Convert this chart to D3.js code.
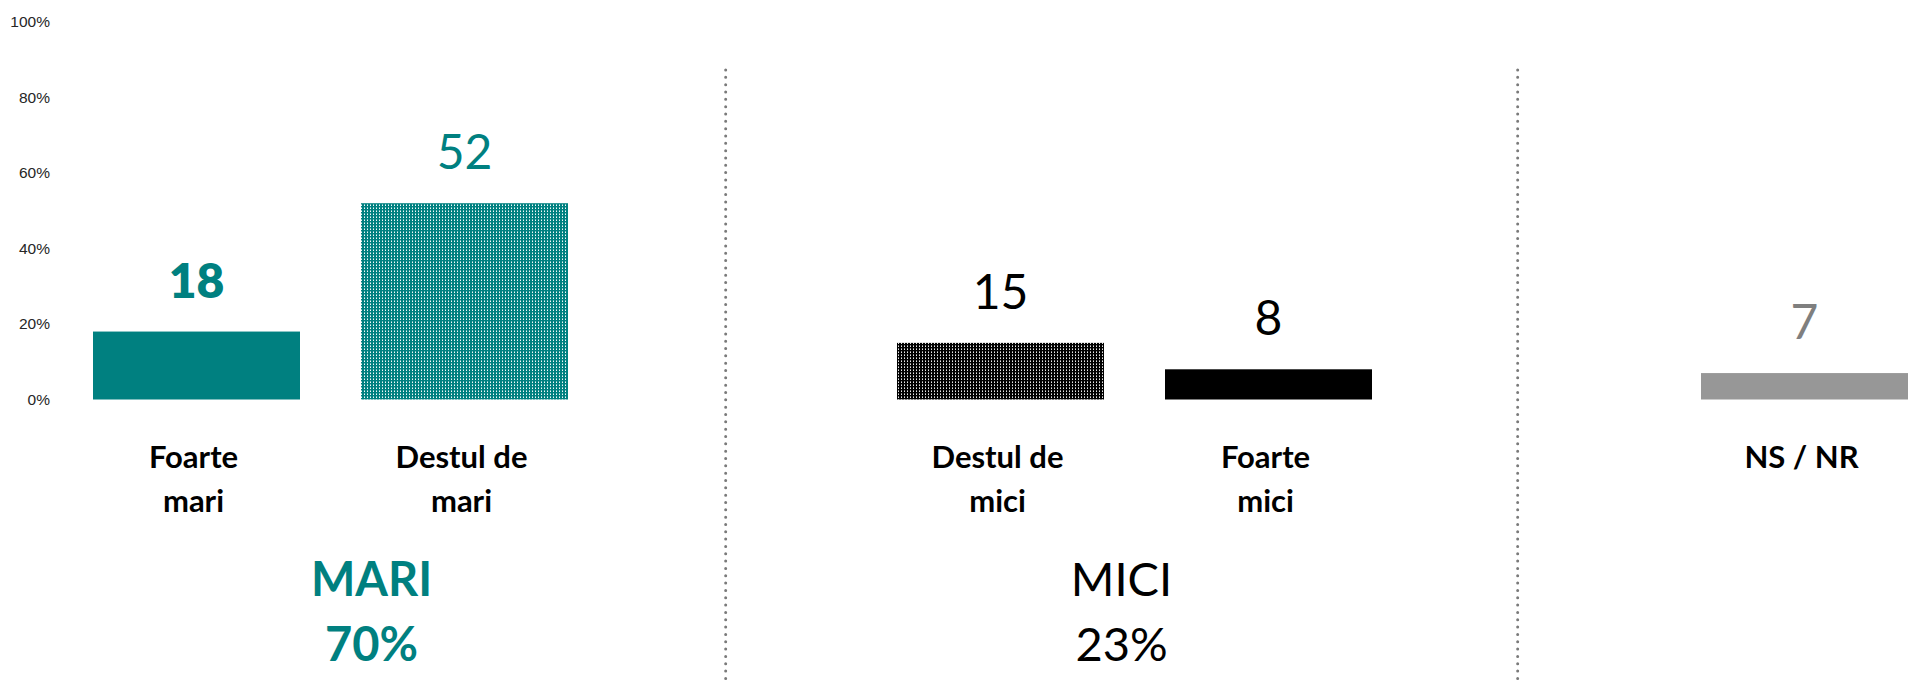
<!DOCTYPE html>
<html>
<head>
<meta charset="utf-8">
<script src="https://cdn.jsdelivr.net/npm/d3@7"></script>
<style>
  html, body { margin: 0; padding: 0; background: #fff; }
  svg { display: block; }
</style>
</head>
<body>
<svg id="chart" width="1908" height="680"></svg>
<script>
// ---- data ----
const slots = ["Foarte mari", "Destul de mari", "sep1", "Destul de mici", "Foarte mici", "sep2", "NS / NR"];
const barCategories = ["Foarte mari", "Destul de mari", "Destul de mici", "Foarte mici", "NS / NR"];
const barValues = [18, 52, 15, 8, 7];
const labelLines = [["Foarte", "mari"], ["Destul de", "mari"], ["Destul de", "mici"], ["Foarte", "mici"], ["NS / NR"]];
const yTicks = [0, 20, 40, 60, 80, 100];
const separators = ["sep1", "sep2"];
const groupNames = ["MARI", "MICI"];
const groupTotals = [70, 23];
const groupMembers = [["Foarte mari", "Destul de mari"], ["Destul de mici", "Foarte mici"]];

// ---- styles ----
const TEAL = "#008080";
const barFills = ["solid-teal", "dots-teal", "dots-black", "solid-black", "solid-gray"];
const valueColors = [TEAL, TEAL, "#000", "#000", "#7f7f7f"];
const valueWeights = [700, 400, 400, 400, 400];
const groupColors = [TEAL, "#000"];
const groupWeights = [700, 400];
const FONT = "Lato, 'Open Sans', sans-serif";

const svg = d3.select("#chart");
const defs = svg.append("defs");

function dotPattern(id, bg, dot, soft) {
  const p = defs.append("pattern").attr("id", id)
    .attr("patternUnits", "userSpaceOnUse").attr("width", 3).attr("height", 3);
  p.append("rect").attr("width", 3).attr("height", 3).attr("fill", bg);
  p.append("rect").attr("x", 1).attr("y", 1).attr("width", 1).attr("height", 1).attr("fill", dot);
  p.append("rect").attr("x", 1).attr("y", 0).attr("width", 1).attr("height", 1).attr("fill", soft);
}
dotPattern("dots-teal", TEAL, "#f2fafa", "#80c0c0");
dotPattern("dots-black", "#000", "#e6e6e6", "#8c8c8c");
const fillOf = {
  "solid-teal": TEAL,
  "dots-teal": "url(#dots-teal)",
  "dots-black": "url(#dots-black)",
  "solid-black": "#000",
  "solid-gray": "#979797"
};

// ---- scales ----
const x = d3.scaleBand().domain(slots).range([62.5, 1938.5])
  .paddingInner(0.2276).paddingOuter(0.1138);
const y = d3.scaleLinear().domain([0, 100]).range([399.5, 22]);
const bw = x.bandwidth();

// ---- y axis (labels only) ----
const yAxis = d3.axisLeft(y).tickValues(yTicks).tickSize(0).tickPadding(0)
  .tickFormat(d => d + "%");
const ya = svg.append("g").attr("transform", "translate(50,0)").call(yAxis);
ya.select(".domain").remove();
ya.selectAll("text").attr("font-family", "'Liberation Sans', Arial, sans-serif")
  .attr("font-size", 15.5).attr("fill", "#262626");

// ---- separators ----
const sepFrac = [0.467, 0.409];
svg.selectAll("line.sep").data(separators).join("line")
  .attr("class", "sep")
  .attr("x1", (d, i) => x(d) + bw * sepFrac[i])
  .attr("x2", (d, i) => x(d) + bw * sepFrac[i])
  .attr("y1", 70).attr("y2", 684)
  .attr("stroke", "#7a7a7a").attr("stroke-width", 3)
  .attr("stroke-linecap", "round").attr("stroke-dasharray", "0 7.33");

// ---- bars ----
const bars = barCategories.map((c, i) => ({ c, v: barValues[i], i }));
svg.selectAll("rect.bar").data(bars).join("rect")
  .attr("class", "bar")
  .attr("x", d => x(d.c))
  .attr("y", d => y(d.v))
  .attr("width", bw)
  .attr("height", d => y(0) - y(d.v))
  .attr("fill", d => fillOf[barFills[d.i]]);

// ---- value labels ----
svg.selectAll("text.val").data(bars).join("text")
  .attr("class", "val")
  .attr("x", d => x(d.c) + bw / 2)
  .attr("y", d => y(d.v) - 34)
  .attr("text-anchor", "middle")
  .attr("font-family", FONT).attr("font-size", 48)
  .attr("font-weight", d => valueWeights[d.i] === 700 ? 800 : 400)
  .attr("fill", d => valueColors[d.i])
  .text(d => d.v);

// ---- category labels ----
const cl = svg.selectAll("text.cat").data(bars).join("text")
  .attr("class", "cat")
  .attr("text-anchor", "middle")
  .attr("font-family", FONT).attr("font-size", 31).attr("font-weight", 700)
  .attr("fill", "#000");
cl.selectAll("tspan").data(d => labelLines[d.i].map(t => ({ t, c: d.c }))).join("tspan")
  .attr("x", d => x(d.c) + bw / 2 - 3)
  .attr("y", (d, j) => 468 + j * 44)
  .text(d => d.t);

// ---- group summaries ----
const groupShift = [41, -13];
const groups = groupNames.map((g, i) => ({ g, t: groupTotals[i], m: groupMembers[i], i }));
const gt = svg.selectAll("text.grp").data(groups).join("text")
  .attr("class", "grp")
  .attr("text-anchor", "middle")
  .attr("font-family", FONT).attr("font-size", 47)
  .attr("font-weight", d => groupWeights[d.i])
  .attr("fill", d => groupColors[d.i]);
gt.selectAll("tspan").data(d => {
    const cx = (x(d.m[0]) + x(d.m[1]) + bw) / 2 + groupShift[d.i];
    return [{ s: d.g, cx, j: 0 }, { s: d.t + "%", cx, j: 1 }];
  }).join("tspan")
  .attr("x", d => d.cx)
  .attr("y", d => 596 + d.j * 65)
  .text(d => d.s);
</script>
</body>
</html>
